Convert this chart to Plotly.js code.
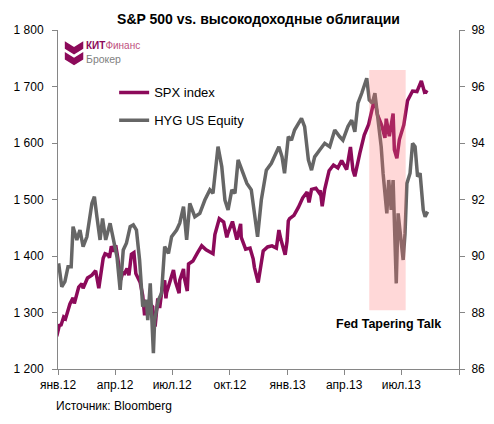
<!DOCTYPE html>
<html>
<head>
<meta charset="utf-8">
<script src="https://cdn.plot.ly/plotly-3.0.1.min.js"></script>
<style>html,body{margin:0;padding:0;background:#fff;}#chart{width:494px;height:424px;}</style>
</head>
<body>
<div id="chart"></div>
<script>
// ---- Data ----
const spxDates = ["2011-12-30","2012-01-03","2012-01-06","2012-01-10","2012-01-13","2012-01-19","2012-01-20","2012-01-25","2012-01-27",
"2012-02-03","2012-02-08","2012-02-10","2012-02-17","2012-02-24","2012-03-01","2012-03-06","2012-03-09","2012-03-13","2012-03-16",
"2012-03-21","2012-03-23","2012-03-26","2012-03-30","2012-04-02","2012-04-05","2012-04-10","2012-04-13","2012-04-16","2012-04-20",
"2012-04-23","2012-04-27","2012-05-01","2012-05-04","2012-05-11","2012-05-15","2012-05-18","2012-05-21","2012-05-23","2012-05-25",
"2012-05-31","2012-06-01","2012-06-04","2012-06-08","2012-06-11","2012-06-15","2012-06-19","2012-06-21","2012-06-22","2012-06-29",
"2012-07-03","2012-07-06","2012-07-12","2012-07-13","2012-07-19","2012-07-20","2012-07-25","2012-07-27","2012-08-03","2012-08-10",
"2012-08-17","2012-08-24","2012-08-31","2012-09-04","2012-09-07","2012-09-14","2012-09-21","2012-09-26","2012-09-28","2012-10-05",
"2012-10-12","2012-10-18","2012-10-19","2012-10-26","2012-11-02","2012-11-07","2012-11-09","2012-11-15","2012-11-16","2012-11-23",
"2012-11-30","2012-12-07","2012-12-14","2012-12-18","2012-12-21","2012-12-28","2012-12-31","2013-01-02","2013-01-04","2013-01-11",
"2013-01-18","2013-01-25","2013-02-01","2013-02-04","2013-02-08","2013-02-15","2013-02-20","2013-02-22","2013-02-25","2013-03-01",
"2013-03-08","2013-03-15","2013-03-22","2013-03-28","2013-04-05","2013-04-11","2013-04-15","2013-04-18","2013-04-26","2013-05-03",
"2013-05-10","2013-05-17","2013-05-21","2013-05-24","2013-05-31","2013-06-05","2013-06-07","2013-06-12","2013-06-18","2013-06-20",
"2013-06-24","2013-06-28","2013-07-05","2013-07-11","2013-07-19","2013-07-26","2013-08-02","2013-08-07","2013-08-09","2013-08-12"];
const spxValues = [1258,1277,1278,1292,1289,1314,1315,1326,1316,
1345,1351,1343,1361,1366,1374,1343,1371,1396,1404,
1402,1397,1417,1408,1419,1398,1358,1370,1369,1378,
1366,1403,1406,1369,1353,1330,1295,1316,1318,1318,
1310,1278,1278,1325,1308,1343,1357,1325,1335,1362,
1375,1355,1334,1357,1377,1363,1338,1386,1391,1405,
1418,1411,1407,1404,1438,1466,1460,1433,1441,1461,
1429,1457,1433,1412,1414,1395,1380,1353,1360,1409,
1416,1418,1414,1446,1430,1402,1426,1462,1466,1472,
1486,1503,1513,1495,1518,1520,1512,1516,1488,1518,
1551,1561,1556,1569,1553,1593,1552,1541,1582,1614,
1633,1667,1669,1650,1631,1609,1643,1612,1652,1588,
1573,1606,1632,1675,1692,1691,1710,1690,1691,1689];

const hygDates = ["2012-01-02","2012-01-07","2012-01-12","2012-01-17","2012-01-22","2012-01-25","2012-01-31","2012-02-05","2012-02-10",
"2012-02-16","2012-02-24","2012-02-28","2012-03-03","2012-03-08","2012-03-12","2012-03-17","2012-03-24","2012-03-29","2012-04-04",
"2012-04-09","2012-04-14","2012-04-19","2012-04-25","2012-04-30","2012-05-05","2012-05-10","2012-05-15","2012-05-21","2012-05-23",
"2012-05-27","2012-06-01","2012-06-03","2012-06-09","2012-06-14","2012-06-19","2012-06-25","2012-06-30","2012-07-08","2012-07-13",
"2012-07-19","2012-07-24","2012-07-29","2012-08-06","2012-08-14","2012-08-22","2012-08-30","2012-09-04","2012-09-12","2012-09-18",
"2012-09-23","2012-09-28","2012-10-04","2012-10-09","2012-10-14","2012-10-20","2012-10-28","2012-11-04","2012-11-10","2012-11-14",
"2012-11-20","2012-11-28","2012-12-06","2012-12-11","2012-12-18","2012-12-23","2012-12-27","2013-01-02","2013-01-07","2013-01-12",
"2013-01-18","2013-01-23","2013-01-28","2013-02-03","2013-02-08","2013-02-13","2013-02-21","2013-03-01","2013-03-09","2013-03-17",
"2013-03-25","2013-03-30","2013-04-07","2013-04-13","2013-04-18","2013-04-23","2013-04-29","2013-05-07","2013-05-11","2013-05-16",
"2013-05-20","2013-05-25","2013-05-30","2013-06-02","2013-06-06","2013-06-08","2013-06-11","2013-06-15","2013-06-18","2013-06-21",
"2013-06-23","2013-06-26","2013-06-30","2013-07-04","2013-07-07","2013-07-10","2013-07-15","2013-07-19","2013-07-23","2013-07-27",
"2013-07-31","2013-08-03","2013-08-05","2013-08-08","2013-08-12"];
const hygValues = [89.74,88.91,89.09,89.62,89.62,91.04,90.57,90.92,90.33,
90.68,91.86,92.10,91.39,90.57,91.33,90.57,91.16,90.68,89.97,
88.80,90.21,90.45,91.04,91.10,90.92,89.86,88.21,88.44,87.73,
89.03,86.56,87.73,88.44,88.68,90.33,90.09,90.68,90.92,91.16,
91.75,90.57,91.86,91.39,91.51,91.98,92.34,92.22,93.87,93.16,
91.98,91.63,92.34,92.22,93.40,93.04,92.57,92.34,91.39,90.68,
91.98,93.04,93.28,93.51,93.87,93.51,92.93,94.22,94.10,94.46,
94.70,94.87,94.58,93.40,93.04,93.51,93.75,93.99,93.87,94.46,
94.22,94.10,94.58,94.81,94.40,95.41,95.76,96.29,95.52,95.41,
95.76,94.70,93.87,92.93,92.10,91.51,92.69,91.63,92.69,90.10,
89.03,91.51,90.80,89.86,90.80,92.57,92.93,93.99,93.87,92.81,
92.93,92.10,91.63,91.39,91.57];

const tickDates = ["2012-01-01","2012-04-01","2012-07-01","2012-10-01","2013-01-01","2013-04-01","2013-07-01","2013-10-01"];
const tickLabels = ["янв.12","апр.12","июл.12","окт.12","янв.13","апр.13","июл.13",""];
const seriesNames = ["SPX index","HYG US Equity"];
const shadeRange = ["2013-05-11","2013-07-08"];

// ---- Styles ----
const magenta = "#8C0A5A";
const grey = "#666666";
const axisColor = "#868686";
const font = "Liberation Sans, Arial, sans-serif";

const traces = [
  {x: spxDates, y: spxValues, name: seriesNames[0], type: "scatter", mode: "lines",
   line: {color: magenta, width: 3.5}, yaxis: "y", legendgroup: "a"},
  {x: hygDates, y: hygValues, name: seriesNames[1], type: "scatter", mode: "lines",
   line: {color: grey, width: 3.5}, yaxis: "y2", legendgroup: "b"}
];

const layout = {
  width: 494, height: 424,
  margin: {l: 58, r: 35, t: 30, b: 55},
  paper_bgcolor: "#fff", plot_bgcolor: "#fff",
  font: {family: font, size: 12, color: "#000"},
  separators: ", ",
  showlegend: true,
  legend: {x: 0.14, y: 0.86, xanchor: "left", yanchor: "top", bgcolor: "rgba(0,0,0,0)",
           font: {size: 13, color: "#000"}, traceorder: "grouped", tracegroupgap: 8},
  title: {text: "<b>S&P 500 vs. высокодоходные облигации</b>", x: 0.5, xref: "paper",
          y: 0.955, yanchor: "middle", font: {size: 14, color: "#000", family: font}},
  xaxis: {type: "date", range: ["2012-01-01","2013-10-01"], tickmode: "array",
          tickvals: tickDates, ticktext: tickLabels, showgrid: false, zeroline: false,
          showline: true, linecolor: axisColor, linewidth: 1, ticks: "outside", ticklen: 5,
          tickcolor: axisColor, tickfont: {size: 12}},
  yaxis: {range: [1200, 1800], dtick: 100, tickformat: ",d", showgrid: false, zeroline: false,
          showline: true, linecolor: axisColor, ticks: "outside", ticklen: 5, tickcolor: axisColor,
          ticklabelstandoff: 6, tickfont: {size: 12}},
  yaxis2: {range: [86, 98], dtick: 2, overlaying: "y", side: "right", showgrid: false, zeroline: false,
           showline: true, linecolor: axisColor, ticks: "outside", ticklen: 5, tickcolor: axisColor,
           ticklabelstandoff: 4, tickfont: {size: 12}},
  shapes: [
    {type: "rect", xref: "x", yref: "y", x0: shadeRange[0], x1: shadeRange[1], y0: 1304, y1: 1729,
     fillcolor: "rgba(255,110,110,0.27)", line: {width: 0}, layer: "above"},
    // logo chevrons
    {type: "path", xref: "paper", yref: "paper",
     path: "M 0.017 0.967 L 0.040 0.950 L 0.063 0.967 L 0.063 0.945 L 0.040 0.928 L 0.017 0.945 Z",
     fillcolor: magenta, line: {width: 0}},
    {type: "path", xref: "paper", yref: "paper",
     path: "M 0.017 0.935 L 0.040 0.918 L 0.063 0.935 L 0.063 0.913 L 0.040 0.896 L 0.017 0.913 Z",
     fillcolor: magenta, line: {width: 0}}
  ],
  annotations: [
    {text: "<b>Fed Tapering Talk</b>", xref: "x", yref: "y", x: "2013-06-10", y: 1280,
     showarrow: false, font: {size: 12.5, color: "#000"}},
    {text: "Источник: Bloomberg", xref: "paper", yref: "paper", x: -0.01, y: -0.11,
     xanchor: "left", yanchor: "middle", showarrow: false, font: {size: 12, color: "#000"}},
    {text: "<b>КИТ</b><span style='color:#C0507E'>Финанс</span>", xref: "paper", yref: "paper",
     x: 0.066, y: 0.955, xanchor: "left", yanchor: "middle", showarrow: false,
     font: {size: 10, color: magenta, family: "Liberation Sans Narrow, Arial Narrow, sans-serif"}},
    {text: "Брокер", xref: "paper", yref: "paper", x: 0.066, y: 0.915, xanchor: "left",
     yanchor: "middle", showarrow: false,
     font: {size: 10.5, color: "#7f7f7f", family: "Liberation Sans Narrow, Arial Narrow, sans-serif"}}
  ]
};

Plotly.newPlot("chart", traces, layout, {displayModeBar: false, staticPlot: true});
</script>
</body>
</html>
